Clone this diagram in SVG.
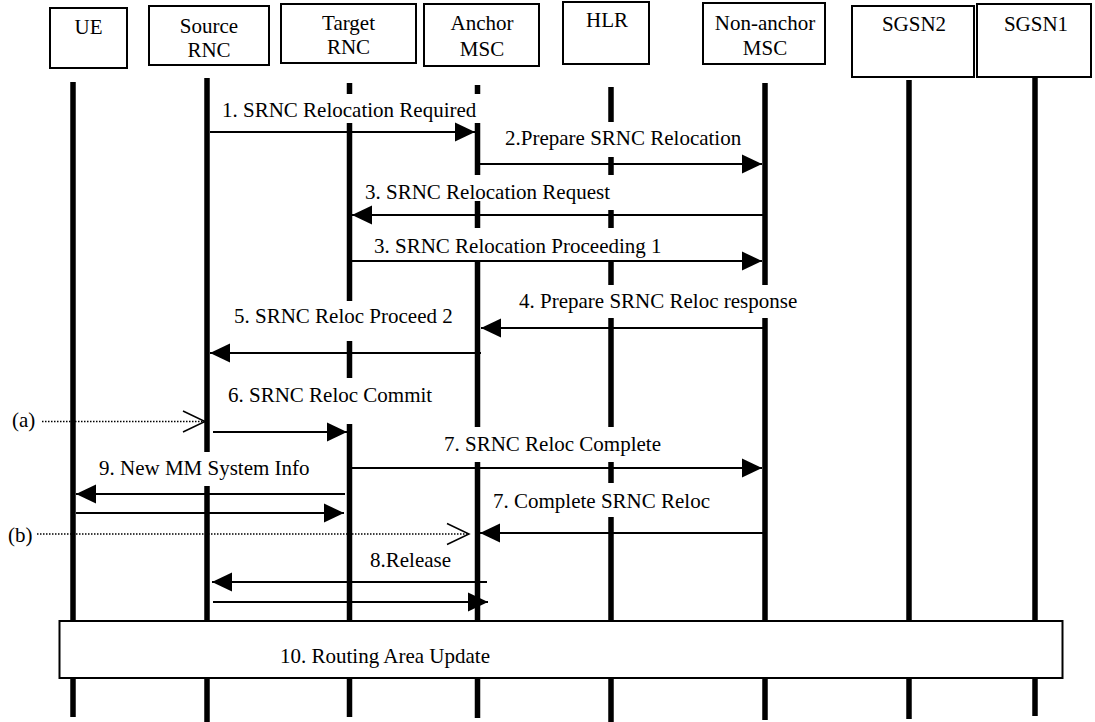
<svg xmlns="http://www.w3.org/2000/svg" width="1095" height="722" viewBox="0 0 1095 722">
<style>
.box{fill:#fff;stroke:#000;stroke-width:2}
.t{font-family:"Liberation Serif","Times New Roman",serif;font-size:21px;fill:#000}
.c{text-anchor:middle}
.life{stroke:#000;stroke-width:5.5;fill:none}
.msg{stroke:#000;stroke-width:2;fill:none;marker-end:url(#arr)}
.dot{stroke:#000;stroke-width:1.5;fill:none;stroke-dasharray:1.5 1.5;marker-end:url(#open)}
</style>
<defs>
<marker id="arr" markerUnits="userSpaceOnUse" markerWidth="20" markerHeight="19" refX="20" refY="9.5" orient="auto" overflow="visible">
<path d="M0,0 L20,9.5 L0,19 z" fill="#000"/>
</marker>
<marker id="open" markerUnits="userSpaceOnUse" markerWidth="24" markerHeight="23" refX="22" refY="10.5" orient="auto" overflow="visible">
<path d="M0,0 L22,10.5 L0,21" fill="none" stroke="#000" stroke-width="1.5"/>
</marker>
</defs>
<rect width="1095" height="722" fill="#fff"/>
<g id="UE">
<rect class="box" x="50" y="8" width="77" height="60"/>
<text class="t c" x="88.5" y="34">UE</text>
<path class="life" d="M73 82 V717"/>
</g>
<g id="SourceRNC">
<rect class="box" x="149" y="6" width="120" height="59"/>
<text class="t c" x="209" y="33">Source</text>
<text class="t c" x="209" y="57">RNC</text>
<path class="life" d="M207 78 V452 M207 486 V722"/>
</g>
<g id="TargetRNC">
<rect class="box" x="281" y="4" width="135" height="59"/>
<text class="t c" x="348.5" y="29.5">Target</text>
<text class="t c" x="348.5" y="54">RNC</text>
<path class="life" d="M349.5 83 V94 M349.5 123 V301 M349.5 341 V378 M349.5 424 V717"/>
</g>
<g id="AnchorMSC">
<rect class="box" x="424" y="4" width="115" height="62"/>
<text class="t c" x="482" y="30">Anchor</text>
<text class="t c" x="482" y="56">MSC</text>
<path class="life" d="M477.5 85 V94 M477.5 123 V175 M477.5 201 V228 M477.5 260 V427 M477.5 462 V718"/>
</g>
<g id="HLR">
<rect class="box" x="563" y="2" width="86" height="62"/>
<text class="t c" x="607" y="27">HLR</text>
<path class="life" d="M611 87 V122 M611 157 V175 M611 210 V228 M611 260 V285 M611 318 V427 M611 462 V483 M611 517 V722"/>
</g>
<g id="NonAnchorMSC">
<rect class="box" x="703" y="3" width="122" height="61"/>
<text class="t c" x="765" y="29.5">Non-anchor</text>
<text class="t c" x="765" y="55">MSC</text>
<path class="life" d="M765 83 V285 M765 318 V720"/>
</g>
<g id="SGSN2">
<rect class="box" x="852" y="6" width="122" height="71"/>
<text class="t c" x="914" y="31">SGSN2</text>
<path class="life" d="M909 80 V719"/>
</g>
<g id="SGSN1">
<rect class="box" x="977" y="4" width="114" height="73"/>
<text class="t c" x="1036" y="31">SGSN1</text>
<path class="life" d="M1035 78 V716"/>
</g>
<g id="connectors">
<path class="msg" d="M210 132 H475"/>
<path class="msg" d="M480 164 H762"/>
<path class="msg" d="M763 215 H352"/>
<path class="msg" d="M352 261 H762"/>
<path class="msg" d="M763 328 H481"/>
<path class="msg" d="M481 353 H210"/>
<path class="msg" d="M213 432 H347"/>
<path class="msg" d="M352 468 H762"/>
<path class="msg" d="M345 494 H76"/>
<path class="msg" d="M76 513 H344"/>
<path class="msg" d="M763 533 H480"/>
<path class="msg" d="M487 582 H212"/>
<path class="msg" d="M213 602 H488"/>
<path class="dot" d="M42 421.5 H205"/>
<path class="dot" d="M37 534 H469"/>
<text class="t" x="222" y="117">1. SRNC Relocation Required</text>
<text class="t" x="505" y="145">2.Prepare SRNC Relocation</text>
<text class="t" x="365" y="199">3. SRNC Relocation Request</text>
<text class="t" x="374" y="253">3. SRNC Relocation Proceeding 1</text>
<text class="t" x="519" y="308">4. Prepare SRNC Reloc response</text>
<text class="t" x="234" y="323">5. SRNC Reloc Proceed 2</text>
<text class="t" x="228" y="402">6. SRNC Reloc Commit</text>
<text class="t" x="444" y="451">7. SRNC Reloc Complete</text>
<text class="t" x="99" y="475">9. New MM System Info</text>
<text class="t" x="493" y="508">7. Complete SRNC Reloc</text>
<text class="t" x="370" y="567">8.Release</text>
<text class="t" x="12" y="427">(a)</text>
<text class="t" x="8" y="542">(b)</text>
</g>
<g id="RoutingAreaUpdate">
<rect class="box" x="59.5" y="621" width="1003" height="57"/>
<text class="t" x="280" y="663">10. Routing Area Update</text>
</g>
</svg>
